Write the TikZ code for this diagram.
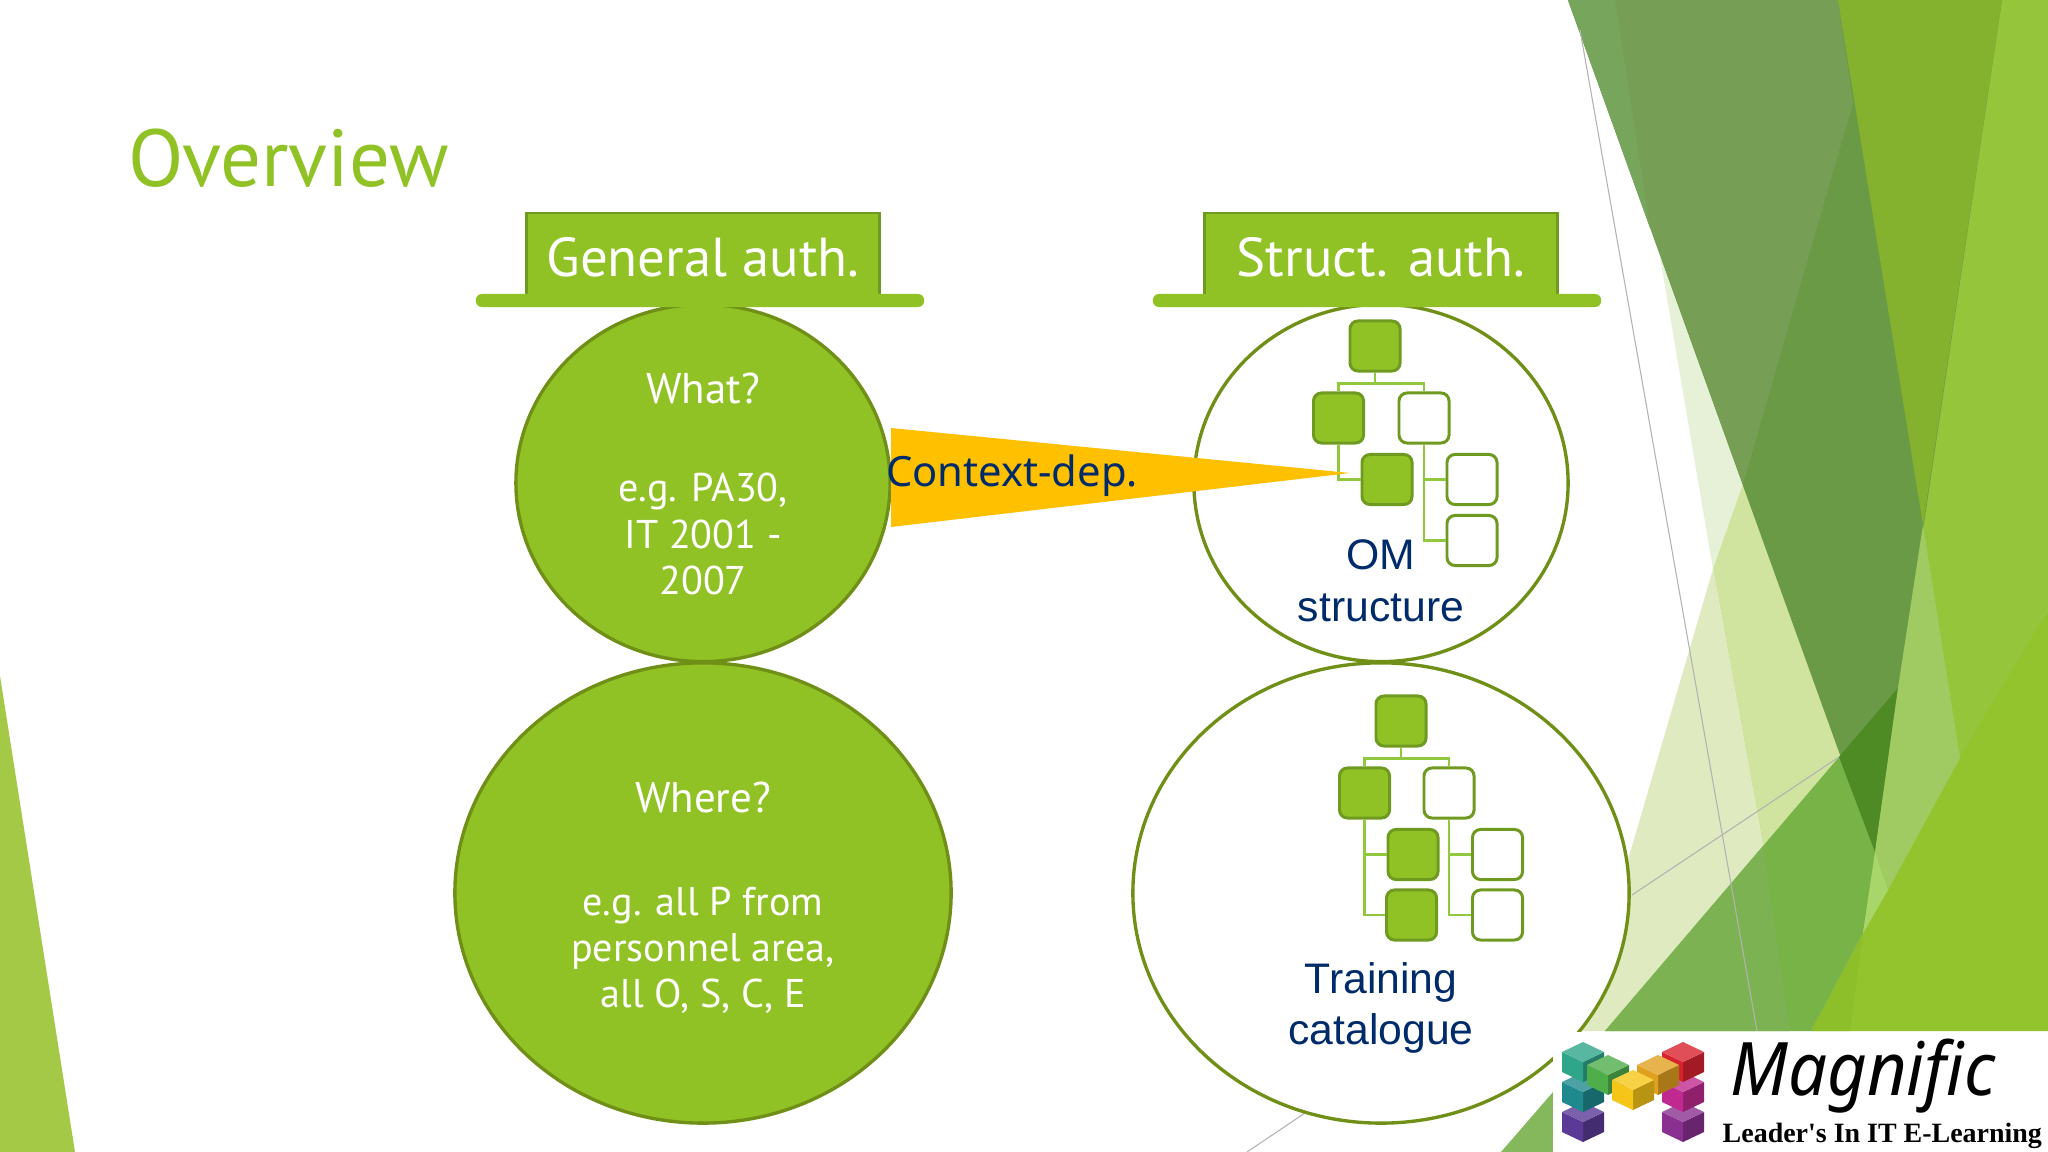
\documentclass[tikz,border=0pt]{standalone}
\usepackage{fontspec}
\setmainfont{PT Sans}
\newfontfamily\arialfont{Liberation Sans}
\newfontfamily\notefont{Noto Sans}
\newfontfamily\logoserif{Liberation Serif}
\usetikzlibrary{shapes.geometric}
\definecolor{leaf}{HTML}{90C226}
\definecolor{leafdark}{HTML}{6F8F16}
\definecolor{boxedge}{HTML}{6F9A20}
\definecolor{twig}{HTML}{92C83E}
\definecolor{navy}{HTML}{002B6B}
\definecolor{wedge}{HTML}{FFC000}
\definecolor{bgleft}{HTML}{A4C947}
\definecolor{bgright}{HTML}{95C53B}
\definecolor{bgcorner}{HTML}{93C42E}
\definecolor{bgsliver}{HTML}{8DBF2A}
\definecolor{bgbottom}{HTML}{78B347}
\definecolor{bgbottomb}{HTML}{7CB252}
\definecolor{bggrey}{HTML}{769E55}
\definecolor{bgstrip}{HTML}{78A55C}
\definecolor{bgolive}{HTML}{84B22F}
\definecolor{bgmid}{HTML}{6A9A45}
\definecolor{bgdeep}{HTML}{4F8B25}
\definecolor{bgpalea}{HTML}{E7F1D8}
\definecolor{bgpaleb}{HTML}{D0E4A0}
\definecolor{bgpalec}{HTML}{E0EAC0}
\definecolor{bglighta}{HTML}{A0CA62}
\definecolor{bglightb}{HTML}{A8D66A}
\definecolor{bgfoot}{HTML}{85B85C}
\definecolor{logoa}{HTML}{5A3A96}
\definecolor{logob}{HTML}{1F8A8E}
\definecolor{logoc}{HTML}{2FA58A}
\definecolor{logod}{HTML}{8A3090}
\definecolor{logoe}{HTML}{C02A90}
\definecolor{logof}{HTML}{D8232F}
\definecolor{logog}{HTML}{4FAE4A}
\definecolor{logoh}{HTML}{E0A020}
\definecolor{logoi}{HTML}{F5C518}
\newcommand{\logocube}[3]{
	\fill[#3!75!black] (#1,#2+10) -- (#1+21,#2) -- (#1+21,#2+20) -- (#1,#2+30) -- cycle;
	\fill[#3] (#1,#2+10) -- (#1-21,#2) -- (#1-21,#2+20) -- (#1,#2+30) -- cycle;
	\fill[#3!80!white] (#1,#2-10) -- (#1+21,#2) -- (#1,#2+10) -- (#1-21,#2) -- cycle;
}
\tikzset{
	hatbox/.style={draw=boxedge, line width=0.7pt, fill=leaf, minimum width=3.53cm, minimum height=0.83cm, text=white, font=\fontsize{15.6}{18}\selectfont},
	hatbar/.style={fill=leaf, rounded corners=0.06cm, minimum width=4.48cm, minimum height=0.13cm, inner sep=0pt},
	bubble/.style={ellipse, draw=leafdark, line width=0.95pt, inner sep=0pt},
	fullbubble/.style={bubble, fill=leaf},
	emptybubble/.style={bubble, fill=white},
	asktext/.style={text=white, font=\fontsize{12.2}{14}\selectfont},
	smalltext/.style={text=white, align=center, font=\fontsize{11.4}{13.1}\selectfont},
	labeltext/.style={text=navy, font=\arialfont\fontsize{12.15}{14}\selectfont},
	orgbox/.style={draw=boxedge, line width=0.85pt, rounded corners=0.08cm, minimum size=0.5cm, inner sep=0pt},
	orgfull/.style={orgbox, fill=leaf},
	orgempty/.style={orgbox, fill=white},
	twigline/.style={draw=twig, line width=0.6pt},
	hairline/.style={draw=black!30, line width=0.3pt}
}

\begin{document}
\begin{tikzpicture}[x=0.01cm, y=-0.01cm]
\useasboundingbox (0,0) rectangle (2048,1152);

% background
\fill[white] (0,0) rectangle (2048,1152);
\fill[bgleft] (0,676) -- (75,1152) -- (0,1152) -- cycle;

\fill[bgpalea] (1660,257) -- (1760,484) -- (1713,569) -- cycle;
\fill[bgpaleb] (1743,484) -- (1860,757) -- (1763,846) -- (1713,569) -- cycle;
\fill[bgpalec] (1713,569) -- (1763,846) -- (1605,1031) -- (1578,1031) -- cycle;
\fill[bgright] (1960,0) -- (2048,0) -- (2048,610) -- (1863,933) -- (1900,525) -- cycle;
\fill[bgcorner] (2048,610) -- (2048,1031) -- (1811,1031) -- (1863,933) -- (1888,889) -- (1960,757) -- cycle;
\fill[bgsliver] (1863,933) -- (1850,1031) -- (1811,1031) -- cycle;
\fill[bgbottom] (1605,1031) -- (1898,688) -- (1875,852) -- (1863,933) -- (1811,1031) -- cycle;
\fill[bgbottomb] (1605,1031) -- (1763,846) -- (1790,1031) -- cycle;
\fill[bgmid] (1568,0) -- (2002,0) -- (1875,852) -- cycle;
\fill[bggrey] (1568,0) -- (1838,0) -- (1853,103) -- (1743,484) -- cycle;
\fill[bgstrip] (1568,0) -- (1615,0) -- (1650,228) -- cycle;
\fill[bgolive] (1838,0) -- (2002,0) -- (1923,525) -- cycle;
\fill[bgdeep] (1839,757) -- (1898,688) -- (1875,852) -- cycle;
\fill[bglighta] (1923,525) -- (1960,758) -- (1888,890) -- (1875,852) -- (1898,688) -- cycle;
\fill[bglightb] (1875,852) -- (1888,890) -- (1863,933) -- cycle;
\draw[hairline] (1580,30) -- (1757,1031);
\draw[hairline] (1632,895) -- (1839,757);
\draw[hairline] (1247,1152) -- (1305,1113);
\fill[bgfoot] (1501,1152) -- (1553,1092) -- (1553,1152) -- cycle;

\node[anchor=base west, text=leaf, font=\fontsize{23}{28}\selectfont, inner sep=0pt] (title) at (127.5,187) {Overview};

% left column
\node[fullbubble, minimum width=3.74cm, minimum height=3.57cm] (what) at (703,483) {};
\node[fullbubble, minimum width=4.96cm, minimum height=4.6cm] (where) at (703,893) {};
\node[hatbox, text depth=0pt] (general) at (703,254.5) {};
\node[hatbar] (generalbar) at (700,300.5) {};
\node[text=white, font=\fontsize{15.6}{18}\selectfont] (generaltext) at (703,257) {General auth.};

\node[asktext] (whatq) at (703,388) {What?};
\node[smalltext] (whatex) at (703,534) {e.g. PA30,\\IT 2001 -\\2007};
\node[asktext] (whereq) at (703,797) {Where?};
\node[smalltext] (whereex) at (703,950.5) {e.g. all P from\\personnel area,\\all O, S, C, E};

% right column
\node[emptybubble, minimum width=3.74cm, minimum height=3.57cm] (om) at (1381,483) {};
\node[emptybubble, minimum width=4.96cm, minimum height=4.6cm] (catalogue) at (1381,893) {};
\node[hatbox] (struct) at (1381,254.5) {};
\node[hatbar] (structbar) at (1377,300.5) {};
\node[text=white, font=\fontsize{15.6}{18}\selectfont] (structtext) at (1381,257) {Struct. auth.};

% first tree
\node[orgfull] (roota) at (1375,346) {};
\node[orgfull] (lefta) at (1338.5,418) {};
\node[orgempty] (righta) at (1424,418) {};
\node[orgfull] (childa) at (1387,479.5) {};
\node[orgempty] (rightaa) at (1472,479.5) {};
\node[orgempty] (rightab) at (1472,540.5) {};
\draw[twigline] (roota.south) -- ++(0,11) -| (lefta.north);
\draw[twigline] (roota.south) -- ++(0,11) -| (righta.north);
\draw[twigline] (lefta.south) |- (childa.west);
\draw[twigline] (righta.south) |- (rightaa.west);
\draw[twigline] (righta.south) |- (rightab.west);

% second tree
\node[orgfull] (rootb) at (1401,721) {};
\node[orgfull] (leftb) at (1364.5,793) {};
\node[orgempty] (rightb) at (1449,793) {};
\node[orgfull] (leftba) at (1413,854.5) {};
\node[orgfull] (leftbb) at (1411.5,915) {};
\node[orgempty] (rightba) at (1497.5,854.5) {};
\node[orgempty] (rightbb) at (1497.5,915) {};
\draw[twigline] (rootb.south) -- ++(0,11) -| (leftb.north);
\draw[twigline] (rootb.south) -- ++(0,11) -| (rightb.north);
\foreach \a in {leftba,leftbb}
	\draw[twigline] (leftb.south) |- (\a.west);
\foreach \a in {rightba,rightbb}
	\draw[twigline] (rightb.south) |- (\a.west);

\node[labeltext] (omlabel) at (1381,555) {OM};
\node[labeltext] (omlabelb) at (1381,607.5) {structure};
\node[labeltext] (trlabel) at (1381,982.5) {Training};
\node[labeltext] (trlabelb) at (1381,1033.5) {catalogue};

% wedge between the columns
\fill[wedge] (891,428) -- (1350,473) -- (891,527) -- cycle;
\node[text=navy, font=\notefont\fontsize{11.87}{14}\selectfont, inner sep=0pt] (context) at (1012,476) {Context-dep.};

% logo
\fill[white] (1553,1032) rectangle (2048,1152);
\logocube{1583}{1112}{logoa}
\logocube{1583}{1082}{logob}
\logocube{1583}{1052}{logoc}
\logocube{1683}{1112}{logod}
\logocube{1683}{1082}{logoe}
\logocube{1683}{1052}{logof}
\logocube{1608}{1065}{logog}
\logocube{1658}{1065}{logoh}
\logocube{1633}{1080}{logoi}
\node[anchor=base west, inner sep=0pt, xscale=0.93, font=\notefont\bfseries\itshape\fontsize{21}{24}\selectfont] (magnific) at (1730,1095) {Magnific};
\node[anchor=base west, inner sep=0pt, font=\logoserif\bfseries\fontsize{7.95}{9}\selectfont] (leaders) at (1722,1142) {Leader's In IT E-Learning};
\end{tikzpicture}
\end{document}
